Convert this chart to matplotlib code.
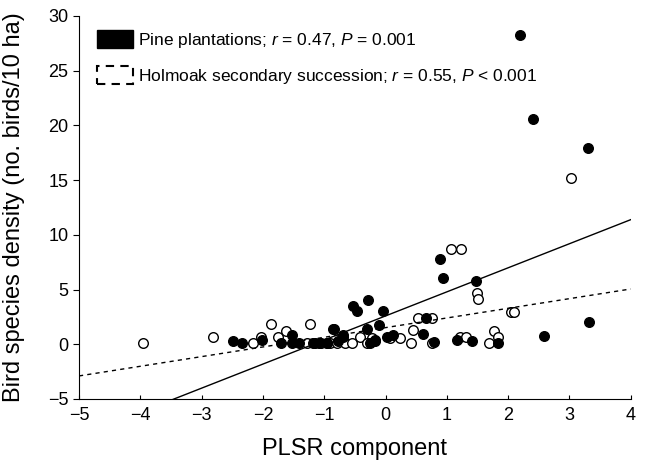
import matplotlib
matplotlib.use("Agg")
import matplotlib.pyplot as plt
from matplotlib.patches import Patch
import numpy as np

plt.rcParams['font.family'] = ['Liberation Sans', 'DejaVu Sans']
plt.rcParams['mathtext.fontset'] = 'custom'
plt.rcParams['mathtext.it'] = 'Liberation Sans:italic'
plt.rcParams['mathtext.rm'] = 'Liberation Sans'

# Pine plantations (filled)
pine_x = [-2.49, -2.34, -2.02, -1.71, -1.53, -1.53, -1.41, -1.18, -0.96, -0.86,
          -0.84, -0.70, -0.70, -0.53, -0.47, -0.29, -0.30, -0.11, -0.04, -0.17,
          0.02, 0.12, 0.61, 0.66, 0.79, 1.16, 1.41, 1.83, 0.89, 0.94,
          1.47, 2.20, 2.40, 3.30, 3.32, 2.58, -1.08, -0.78, -0.25, -0.18]
pine_y = [0.3, 0.1, 0.4, 0.1, 0.85, 0.1, 0.1, 0.1, 0.1, 1.4,
          1.4, 0.7, 0.85, 3.5, 3.0, 4.0, 1.4, 1.75, 3.0, 0.4,
          0.7, 0.85, 0.95, 2.4, 0.2, 0.4, 0.3, 0.1, 7.8, 6.1,
          5.8, 28.3, 20.6, 17.9, 2.0, 0.75, 0.1, 0.3, 0.1, 0.3]

# Holm oak secondary succession (open)
holm_x = [-3.96, -2.82, -2.16, -2.03, -1.87, -1.76, -1.62, -1.23, -1.15, -1.05,
          -0.90, -0.80, -0.66, -0.42, -0.22, 0.07, 0.23, 0.45, 0.53, 0.76,
          0.75, 1.06, 1.23, 1.49, 1.50, 2.04, 2.09, 1.77, 1.83, 1.68,
          1.22, 1.32, 3.02, -0.54, -0.30, 0.42, -1.28, -0.95]
holm_y = [0.1, 0.65, 0.1, 0.7, 1.85, 0.7, 1.2, 1.85, 0.1, 0.1,
          0.15, 0.1, 0.1, 0.65, 0.55, 0.55, 0.55, 1.3, 2.4, 2.4,
          0.1, 8.7, 8.7, 4.7, 4.1, 2.95, 2.95, 1.22, 0.65, 0.1,
          0.7, 0.7, 15.2, 0.1, 0.1, 0.1, 0.1, 0.1]

# regression lines (intercept, slope)
pine_fit = [2.59, 2.2]
holm_fit = [1.52, 0.883]

fig = plt.figure(figsize=(6.45, 4.65), dpi=100)
ax = fig.add_axes([0.1225, 0.142, 0.8555, 0.8236])

ax.scatter(holm_x, holm_y, s=48, facecolor='white', edgecolor='black', linewidth=1.0, zorder=2)
ax.scatter(pine_x, pine_y, s=48, facecolor='black', edgecolor='black', linewidth=1.0, zorder=3)

xs = np.linspace(-5, 4, 50)
ax.plot(xs, pine_fit[0] + pine_fit[1] * xs, color='black', lw=1.0, zorder=4)
ax.plot(xs, holm_fit[0] + holm_fit[1] * xs, color='black', lw=1.0, ls=(0, (3, 3)), zorder=4)

ax.set_xlim(-5, 4)
ax.set_ylim(-5, 30)
ax.set_xticks(range(-5, 5))
ax.set_yticks(range(-5, 31, 5))
ax.spines['top'].set_visible(False)
ax.spines['right'].set_visible(False)
ax.tick_params(axis='y', direction='out', length=4, labelsize=13)
ax.tick_params(axis='x', direction='in', length=3, labelsize=13, pad=6)

ax.set_xlabel('PLSR component', fontsize=17, labelpad=10)
ax.set_ylabel('Bird species density (no. birds/10 ha)', fontsize=17)
ax.yaxis.set_label_coords(-0.098, 0.5)

handles = [Patch(facecolor='black', edgecolor='black'),
           Patch(facecolor='white', edgecolor='black', linestyle=(0, (4, 3)), linewidth=1.5)]
labels = ['Pine plantations; $r$ = 0.47, $P$ = 0.001',
          'Holmoak secondary succession; $r$ = 0.55, $P$ < 0.001']
ax.legend(handles, labels, loc='upper left', frameon=False, fontsize=12.5,
          handlelength=2.1, handleheight=1.2, handletextpad=0.3,
          labelspacing=0.95, borderaxespad=0.3, bbox_to_anchor=(0.01, 0.995))

fig.savefig('out.png', dpi=100)
